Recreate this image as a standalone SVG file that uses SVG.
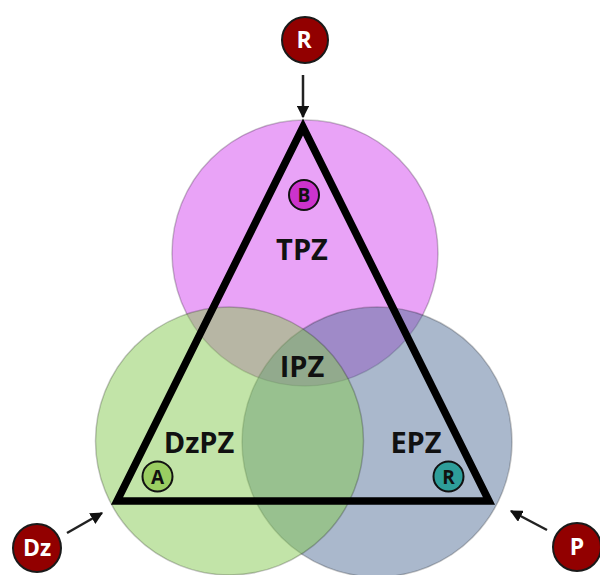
<svg xmlns="http://www.w3.org/2000/svg" width="600" height="575" viewBox="0 0 600 575">
<defs>
<style>
.zone{stroke:#000;stroke-opacity:0.22;stroke-width:1.5}
.lbl{font-family:"Open Sans","Liberation Sans",sans-serif;font-weight:bold;font-size:29px;fill:#111;text-anchor:middle}
.badge{stroke:#111;stroke-width:2}
.blt{font-family:"Open Sans","Liberation Sans",sans-serif;font-weight:bold;font-size:19px;fill:#111;text-anchor:middle}
.node{fill:#920000;stroke:#1a1a1a;stroke-width:2}
.ntx{font-family:"Open Sans","Liberation Sans",sans-serif;font-weight:bold;font-size:23px;fill:#fff;text-anchor:middle}
.arr{stroke:#222;stroke-width:2.5;fill:none}
</style>
<marker id="ah" viewBox="0 0 10 10" refX="9" refY="5" markerWidth="5" markerHeight="5" markerUnits="strokeWidth" orient="auto">
<path d="M0,0 L10,5 L0,10 z" fill="#111"/>
</marker>
</defs>
<rect width="600" height="575" fill="#fff"/>
<g id="zones">
<circle id="zone-TPZ" class="zone" cx="305" cy="253" r="133" fill="rgb(233,163,247)"/>
<circle id="zone-EPZ" class="zone" cx="377" cy="442" r="135" fill="rgb(86,114,154)" fill-opacity="0.5"/>
<circle id="zone-DzPZ" class="zone" cx="229.5" cy="441" r="134" fill="rgb(133,202,81)" fill-opacity="0.5"/>
</g>
<g id="triangle">
<polygon points="303,127 117,501 489,501" fill="none" stroke="#000" stroke-width="7.5" stroke-linejoin="miter"/>
</g>
<g id="labels">
<text class="lbl" x="302" y="260">TPZ</text>
<text class="lbl" x="302" y="377">IPZ</text>
<text class="lbl" x="199" y="453">DzPZ</text>
<text class="lbl" x="416" y="453">EPZ</text>
</g>
<g id="badge-B">
<circle class="badge" cx="304" cy="195" r="15" fill="#CC33CC"/>
<text class="blt" x="304" y="202">B</text>
</g>
<g id="badge-A">
<circle class="badge" cx="157.5" cy="476.5" r="15" fill="#9ACD62"/>
<text class="blt" x="157.5" y="483.5">A</text>
</g>
<g id="badge-R">
<circle class="badge" cx="448.5" cy="476.5" r="15" fill="#2E9E9A"/>
<text class="blt" x="448.5" y="483.5">R</text>
</g>
<g id="connectors">
<line class="arr" x1="303" y1="75" x2="303" y2="117" marker-end="url(#ah)"/>
<line class="arr" x1="67" y1="533" x2="102" y2="513" marker-end="url(#ah)"/>
<line class="arr" x1="547" y1="530" x2="511" y2="511" marker-end="url(#ah)"/>
</g>
<g id="node-R">
<circle class="node" cx="305" cy="40" r="23"/>
<text class="ntx" x="304" y="48">R</text>
</g>
<g id="node-Dz">
<circle class="node" cx="37" cy="548" r="24"/>
<text class="ntx" x="37" y="556">Dz</text>
</g>
<g id="node-P">
<circle class="node" cx="577" cy="547" r="24"/>
<text class="ntx" x="577" y="555">P</text>
</g>
</svg>
